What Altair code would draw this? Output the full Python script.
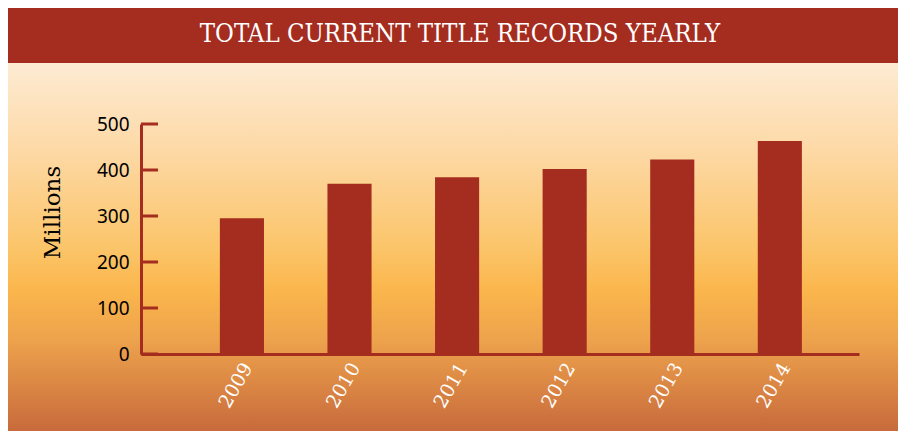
import altair as alt
import pandas as pd

# ---- data ----
years = ["2009", "2010", "2011", "2012", "2013", "2014"]
records = [295, 370, 384, 402, 423, 463]
y_ticks = [0, 100, 200, 300, 400, 500]
title_text = "TOTAL CURRENT TITLE RECORDS YEARLY"
y_title = "Millions"

RED = "#a52d1f"
W, H = 718, 230          # plot area
PL, PT = 133, 116        # padding left/top
CW, CH = 890, 423        # total canvas

bars_df = pd.DataFrame({"year": years, "records": records})
ticks_df = pd.DataFrame({"records": y_ticks})
one = pd.DataFrame({"t": [title_text]})

grad = alt.LinearGradient(
    gradient="linear",
    x1=0, x2=0, y1=0, y2=1,
    stops=[
        alt.GradientStop(offset=0.0, color="#fdebd3"),
        alt.GradientStop(offset=0.236, color="#fdd9a6"),
        alt.GradientStop(offset=0.508, color="#fbc468"),
        alt.GradientStop(offset=0.617, color="#fbb64c"),
        alt.GradientStop(offset=0.753, color="#eda24c"),
        alt.GradientStop(offset=0.861, color="#dd8a45"),
        alt.GradientStop(offset=1.0, color="#c86a3c"),
    ],
)

bg = alt.Chart(one).mark_rect(color=grad).encode(
    x=alt.value(-PL), x2=alt.value(CW - PL),
    y=alt.value(-61), y2=alt.value(CH - PT),
)

banner = alt.Chart(one).mark_rect(color=RED).encode(
    x=alt.value(-PL), x2=alt.value(CW - PL),
    y=alt.value(-PT), y2=alt.value(-61),
)

banner_text = alt.Chart(one).mark_text(
    font="DejaVu Serif Condensed", fontSize=25.5, color="white",
    align="center", baseline="middle",
).encode(
    x=alt.value(319), y=alt.value(-90), text="t:N",
)

yscale = alt.Scale(domain=[0, 500], nice=False)

bars = alt.Chart(bars_df).mark_bar(color=RED).encode(
    x=alt.X(
        "year:N",
        sort=years,
        scale=alt.Scale(paddingInner=0.59, paddingOuter=0.632, align=0.58),
        axis=alt.Axis(
            title=None, ticks=False, tickSize=0, domain=True,
            domainColor=RED, domainWidth=3,
            labelAngle=-60, labelAlign="right", labelBaseline="middle",
            labelFont="DejaVu Serif", labelFontSize=19, labelColor="white",
            labelPadding=10, labelOffset=6, zindex=1,
        ),
    ),
    y=alt.Y(
        "records:Q",
        scale=yscale,
        axis=alt.Axis(
            title=y_title, values=y_ticks, ticks=False, tickSize=0, grid=False,
            domain=True, domainColor=RED, domainWidth=3,
            labelFont="Noto Sans", labelFontSize=19, labelColor="black",
            labelPadding=12,
            titleFont="DejaVu Serif", titleFontSize=23, titleFontWeight="normal",
            titleColor="black", titleAngle=-90, titleX=-89, titleY=88,
            titleAlign="center", titleBaseline="middle",
            zindex=1,
        ),
    ),
)

tick_rules = alt.Chart(ticks_df).mark_rule(color=RED, strokeWidth=3).encode(
    y=alt.Y("records:Q", scale=yscale),
    x=alt.value(0), x2=alt.value(17),
)

chart = alt.layer(bg, banner, banner_text, bars, tick_rules).properties(
    width=W, height=H,
    padding={"left": PL, "top": PT, "right": CW - PL - W, "bottom": CH - PT - H},
    autosize=alt.AutoSizeParams(type="none"),
    background="white",
).configure_view(stroke=None)

chart.save("out.html", embed_options={"renderer": "svg", "actions": False})
